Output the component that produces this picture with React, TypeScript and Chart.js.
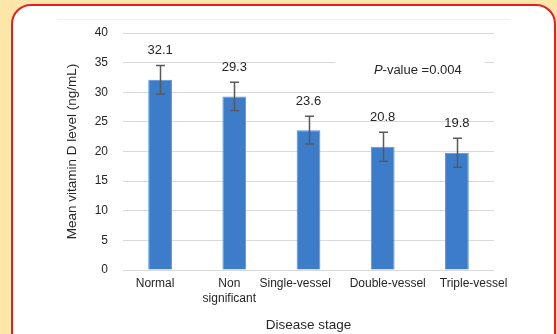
import React, { useEffect, useRef } from "react";
import { Chart, registerables } from "chart.js";

Chart.register(...registerables);

const categories: (string | string[])[] = [
  "Normal",
  ["Non", "significant"],
  "Single-vessel",
  "Double-vessel",
  "Triple-vessel",
];
const meanValues = [32.1, 29.3, 23.6, 20.8, 19.8];
const errorValues = [2.4, 2.4, 2.35, 2.45, 2.45];
const valueLabels = ["32.1", "29.3", "23.6", "20.8", "19.8"];
const yMin = 0;
const yMax = 40;
const yStep = 5;
const pValueItalic = "P";
const pValueRest = "-value =0.004";
const yTitle = "Mean vitamin D level (ng/mL)";
const xTitle = "Disease stage";

const FONT = "'Liberation Sans', Arial, Helvetica, sans-serif";
const TEXT = "#262626";

// Excel-like uneven label placement emulated with padding spaces
const labelShift = (i: number, s: string) => {
  const lead = [0, 0, 0, 3, 10][i];
  const trail = [3, 3, 8, 0, 0][i];
  return " ".repeat(lead) + s + " ".repeat(trail);
};

const overlayPlugin = {
  id: "overlay",
  afterDatasetsDraw(chart: any) {
    const ctx = chart.ctx;
    const meta = chart.getDatasetMeta(0);
    const y = chart.scales.y;
    const x = chart.scales.x;
    ctx.save();
    ctx.strokeStyle = "#595959";
    ctx.lineWidth = 1.5;
    meta.data.forEach((bar: any, i: number) => {
      const cx = Math.round(bar.x) + 0.5;
      const top = y.getPixelForValue(meanValues[i] + errorValues[i]);
      const bot = y.getPixelForValue(meanValues[i] - errorValues[i]);
      ctx.beginPath();
      ctx.moveTo(cx, top);
      ctx.lineTo(cx, bot);
      ctx.moveTo(cx - 4.5, top);
      ctx.lineTo(cx + 4.5, top);
      ctx.moveTo(cx - 4.5, bot);
      ctx.lineTo(cx + 4.5, bot);
      ctx.stroke();
      ctx.fillStyle = TEXT;
      ctx.font = `13px ${FONT}`;
      ctx.textAlign = "center";
      ctx.textBaseline = "middle";
      ctx.fillText(valueLabels[i], bar.x, top - 15);
    });
    const ax = (x.getPixelForValue(3) + x.getPixelForValue(4)) / 2;
    const ay = y.getPixelForValue(35) + 8;
    ctx.fillStyle = "#ffffff";
    ctx.fillRect(ax - 85, y.getPixelForValue(35) - 4, 150, 22);
    ctx.font = `italic 13px ${FONT}`;
    const w1 = ctx.measureText(pValueItalic).width;
    ctx.font = `13px ${FONT}`;
    const w2 = ctx.measureText(pValueRest).width;
    const start = ax - (w1 + w2) / 2 - 2;
    ctx.fillStyle = TEXT;
    ctx.textAlign = "left";
    ctx.textBaseline = "middle";
    ctx.font = `italic 13px ${FONT}`;
    ctx.fillText(pValueItalic, start, ay);
    ctx.font = `13px ${FONT}`;
    ctx.fillText(pValueRest, start + w1, ay);
    ctx.restore();
  },
};

export default function App() {
  const ref = useRef<HTMLCanvasElement | null>(null);

  useEffect(() => {
    if (!ref.current) return;
    const chart = new Chart(ref.current, {
      type: "bar",
      data: {
        labels: categories as any,
        datasets: [
          {
            data: meanValues,
            backgroundColor: "#3d7cc9",
            borderColor: "#5a93d4",
            borderWidth: 1,
            barPercentage: 0.32,
            categoryPercentage: 1,
          },
        ],
      },
      options: {
        animation: false,
        responsive: false,
        devicePixelRatio: 1,
        layout: { padding: { left: 64, right: 63, top: 33, bottom: 1 } },
        plugins: {
          legend: { display: false },
          tooltip: { enabled: false },
        },
        scales: {
          x: {
            grid: { display: false, drawTicks: false },
            border: { display: false },
            ticks: {
              color: TEXT,
              font: { family: FONT, size: 12, lineHeight: 1.25 },
              padding: 6,
              maxRotation: 0,
              autoSkip: false,
              callback(this: any, _v: any, i: number) {
                const lab = categories[i];
                return Array.isArray(lab)
                  ? lab.map((s) => labelShift(i, s))
                  : labelShift(i, lab);
              },
            },
            title: {
              display: true,
              text: xTitle,
              color: TEXT,
              font: { family: FONT, size: 13.5 },
              padding: { top: 0, bottom: 0 },
            },
            afterFit(s: any) {
              s.height = 63;
            },
          },
          y: {
            min: yMin,
            max: yMax,
            ticks: {
              stepSize: yStep,
              color: TEXT,
              font: { family: FONT, size: 12 },
              padding: 15,
            },
            grid: { color: "#d9d9d9", drawTicks: false, lineWidth: 1 },
            border: { display: false },
            title: {
              display: true,
              text: yTitle,
              color: TEXT,
              font: { family: FONT, size: 13.5 },
              padding: { top: 0, bottom: 0 },
            },
            afterFit(s: any) {
              s.width = 59;
            },
          },
        },
      },
      plugins: [overlayPlugin],
    });
    return () => chart.destroy();
  }, []);

  return (
    <div
      style={{
        position: "fixed",
        left: 0,
        top: 0,
        width: 557,
        height: 334,
        background: "#fde6aa",
        overflow: "hidden",
      }}
    >
      <div
        style={{
          position: "absolute",
          left: 11,
          top: 4,
          width: 545,
          height: 370,
          boxSizing: "border-box",
          border: "2px solid #e3211f",
          borderRadius: 20,
          background: "#ffffff",
        }}
      />
      <div
        style={{
          position: "absolute",
          left: 57,
          top: 19,
          width: 453,
          height: 0,
          borderTop: "1px solid #efefef",
        }}
      />
      <canvas
        ref={ref}
        width={557}
        height={334}
        style={{ position: "absolute", left: 0, top: 0, width: 557, height: 334 }}
      />
    </div>
  );
}
